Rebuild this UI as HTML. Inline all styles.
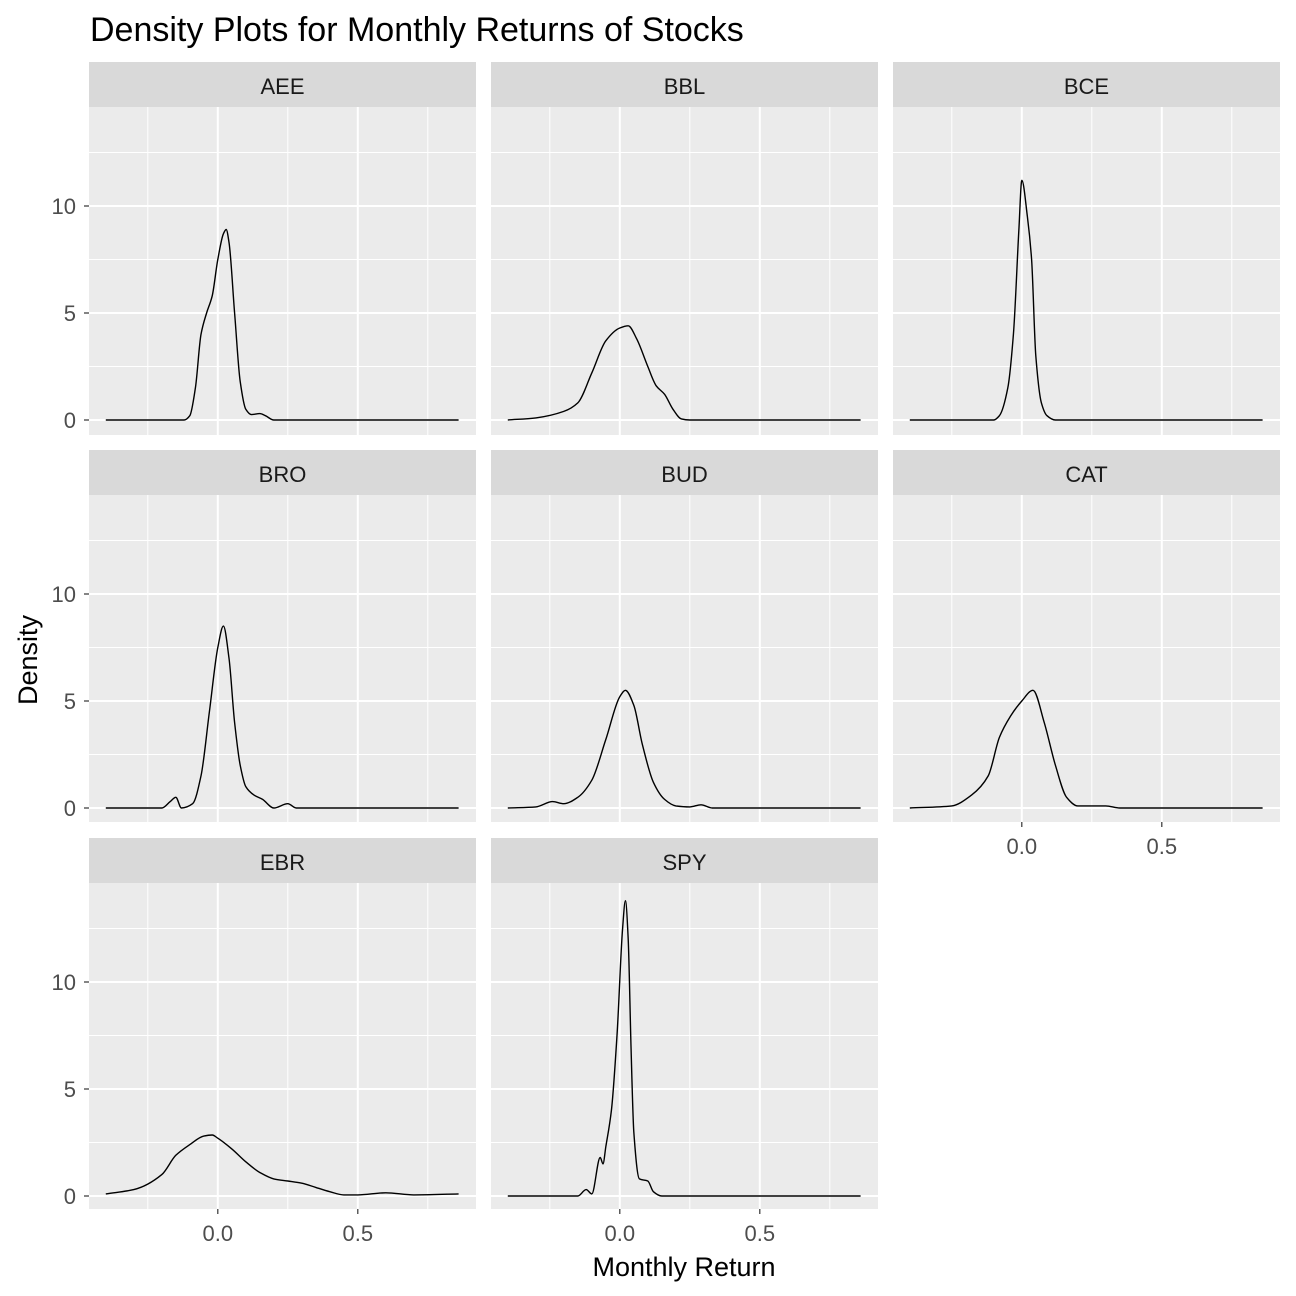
<!DOCTYPE html>
<html><head><meta charset="utf-8"><style>
body{margin:0;background:#fff;}
svg{display:block;font-family:"Liberation Sans",Arial,sans-serif;}
</style></head><body>
<svg id="chart" width="1296" height="1296">
<text x="90" y="41" font-size="34" fill="#000">Density Plots for Monthly Returns of Stocks</text>
<text x="684" y="1276" font-size="27" text-anchor="middle" fill="#000">Monthly Return</text>
<text transform="translate(37,660) rotate(-90)" font-size="27" text-anchor="middle" fill="#000">Density</text>
</svg>
<script>
const stocks=["AEE","BBL","BCE","BRO","BUD","CAT","EBR","SPY"];
const xAEE=[-0.4,-0.12,-0.1,-0.08,-0.06,-0.04,-0.02,0,0.02,0.03,0.04,0.06,0.08,0.1,0.12,0.15,0.17,0.2,0.86];
const yAEE=[0,0,0.2,1.5,4,5,5.8,7.5,8.7,8.9,8.3,5,1.8,0.5,0.25,0.3,0.2,0,0];
const xBBL=[-0.4,-0.3,-0.2,-0.15,-0.1,-0.05,0,0.03,0.06,0.1,0.13,0.16,0.19,0.22,0.25,0.86];
const yBBL=[0,0.1,0.4,0.8,2.2,3.7,4.3,4.4,3.8,2.5,1.6,1.2,0.5,0.05,0,0];
const xBCE=[-0.4,-0.1,-0.08,-0.05,-0.03,-0.01,0,0.02,0.035,0.05,0.07,0.09,0.12,0.86];
const yBCE=[0,0,0.2,1.5,4,9,11.2,9.5,7.5,3,0.8,0.2,0,0];
const xBRO=[-0.4,-0.2,-0.17,-0.15,-0.13,-0.09,-0.06,-0.03,0,0.02,0.04,0.06,0.08,0.1,0.13,0.16,0.2,0.25,0.28,0.86];
const yBRO=[0,0,0.3,0.5,0,0.2,1.5,4.5,7.5,8.5,7,4,2,1,0.6,0.4,0,0.2,0,0];
const xBUD=[-0.4,-0.3,-0.24,-0.2,-0.15,-0.1,-0.05,0,0.02,0.05,0.08,0.12,0.16,0.2,0.25,0.29,0.33,0.86];
const yBUD=[0,0.05,0.3,0.2,0.5,1.3,3.2,5.2,5.5,4.8,3,1.2,0.4,0.1,0.05,0.15,0,0];
const xCAT=[-0.4,-0.25,-0.18,-0.12,-0.08,-0.04,0,0.04,0.08,0.12,0.16,0.2,0.3,0.35,0.86];
const yCAT=[0,0.1,0.6,1.5,3.3,4.3,5,5.5,4,2,0.5,0.1,0.1,0,0];
const xEBR=[-0.4,-0.3,-0.2,-0.15,-0.1,-0.05,-0.02,0,0.05,0.1,0.15,0.2,0.25,0.3,0.35,0.4,0.45,0.5,0.6,0.7,0.86];
const yEBR=[0.1,0.3,1,1.9,2.4,2.8,2.85,2.7,2.2,1.6,1.1,0.8,0.7,0.6,0.4,0.2,0.05,0.05,0.15,0.05,0.1];
const xSPY=[-0.4,-0.15,-0.12,-0.1,-0.07,-0.06,-0.05,-0.03,-0.01,0.01,0.02,0.03,0.04,0.05,0.07,0.1,0.12,0.15,0.86];
const ySPY=[0,0,0.3,0.1,1.8,1.5,2.3,4,7.5,12.5,13.8,12,7,3,0.8,0.7,0.2,0,0];
const series={AEE:[xAEE,yAEE],BBL:[xBBL,yBBL],BCE:[xBCE,yBCE],BRO:[xBRO,yBRO],BUD:[xBUD,yBUD],CAT:[xCAT,yCAT],EBR:[xEBR,yEBR],SPY:[xSPY,ySPY]};
const xTicks=[0,0.5], xMinor=[-0.25,0.25,0.75], yTicks=[0,5,10], yMinor=[2.5,7.5,12.5];
const xTickLabels=["0.0","0.5"], yTickLabels=["0","5","10"];

const NS="http://www.w3.org/2000/svg";
const svg=document.getElementById("chart");
function mk(tag,attrs,parent){const e=document.createElementNS(NS,tag);for(const k in attrs)e.setAttribute(k,attrs[k]);(parent||svg).appendChild(e);return e;}
const colL=[89,491,893], W=387;
const rowStrip=[62,450,838], stripH=45, panelH=[328,327,326];
const xMin=-0.46, pxPerX=280;
const yZeroOff=313, pxPerY=21.4;

// monotone cubic (Fritsch-Carlson) path
function monoPath(P){
  const n=P.length, d=[], m=[];
  for(let i=0;i<n-1;i++) d.push((P[i+1][1]-P[i][1])/(P[i+1][0]-P[i][0]));
  m[0]=d[0]; m[n-1]=d[n-2];
  for(let i=1;i<n-1;i++){
    if(d[i-1]*d[i]<=0) m[i]=0;
    else { const h0=P[i][0]-P[i-1][0], h1=P[i+1][0]-P[i][0];
      const w1=2*h1+h0, w2=h1+2*h0; m[i]=(w1+w2)/(w1/d[i-1]+w2/d[i]); }
  }
  let s="M"+P[0][0].toFixed(1)+","+P[0][1].toFixed(1);
  for(let i=0;i<n-1;i++){
    const h=(P[i+1][0]-P[i][0])/3;
    s+=" C"+(P[i][0]+h).toFixed(1)+","+(P[i][1]+m[i]*h).toFixed(1)+" "+(P[i+1][0]-h).toFixed(1)+","+(P[i+1][1]-m[i+1]*h).toFixed(1)+" "+P[i+1][0].toFixed(1)+","+P[i+1][1].toFixed(1);
  }
  return s;
}

stocks.forEach((s,i)=>{
  const c=i%3, r=Math.floor(i/3);
  const L=colL[c], T=rowStrip[r]+stripH, H=panelH[r];
  const sx=v=>L+(v-xMin)*pxPerX;
  const sy=v=>T+yZeroOff-v*pxPerY;
  const g=mk("g",{});
  
  
  const strip=mk("rect",{x:L,y:rowStrip[r],width:W,height:stripH,fill:"#d9d9d9"},g);
  
  
  const st=mk("text",{x:L+W/2,y:rowStrip[r]+32,"font-size":"22","text-anchor":"middle",fill:"#1a1a1a"},g);
  st.textContent=s;
  
  
  const bg=mk("rect",{x:L,y:T,width:W,height:H,fill:"#ebebeb"},g);
  
  
  yMinor.forEach(v=>mk("line",{x1:L,x2:L+W,y1:sy(v),y2:sy(v),stroke:"#fff","stroke-width":"1"},g));
  xMinor.forEach(v=>mk("line",{x1:sx(v),x2:sx(v),y1:T,y2:T+H,stroke:"#fff","stroke-width":"1"},g));
  yTicks.forEach(v=>mk("line",{x1:L,x2:L+W,y1:sy(v),y2:sy(v),stroke:"#fff","stroke-width":"2"},g));
  xTicks.forEach(v=>mk("line",{x1:sx(v),x2:sx(v),y1:T,y2:T+H,stroke:"#fff","stroke-width":"2"},g));
  const [xs,ys]=series[s];
  const P=xs.map((x,k)=>[sx(x),sy(ys[k])]);
  const pl=mk("path",{d:monoPath(P),fill:"none",stroke:"#000","stroke-width":"1.4","stroke-linejoin":"round"},g);
  
  
  if(c===0){
    yTicks.forEach((v,k)=>{
      mk("line",{x1:L-5,x2:L,y1:sy(v),y2:sy(v),stroke:"#333","stroke-width":"1.2"},g);
      const t=mk("text",{x:L-13,y:sy(v)+8,"font-size":"22","text-anchor":"end",fill:"#4d4d4d"},g);
      t.textContent=yTickLabels[k];
      
      
    });
  }
  const bottom = (r===2) || (r===1 && c===2);
  if(bottom){
    xTicks.forEach((v,k)=>{
      mk("line",{x1:sx(v),x2:sx(v),y1:T+H,y2:T+H+5,stroke:"#333","stroke-width":"1.2"},g);
      const t=mk("text",{x:sx(v),y:T+H+32,"font-size":"22","text-anchor":"middle",fill:"#4d4d4d"},g);
      t.textContent=xTickLabels[k];
      
      
    });
  }
});
</script>
</body></html>
